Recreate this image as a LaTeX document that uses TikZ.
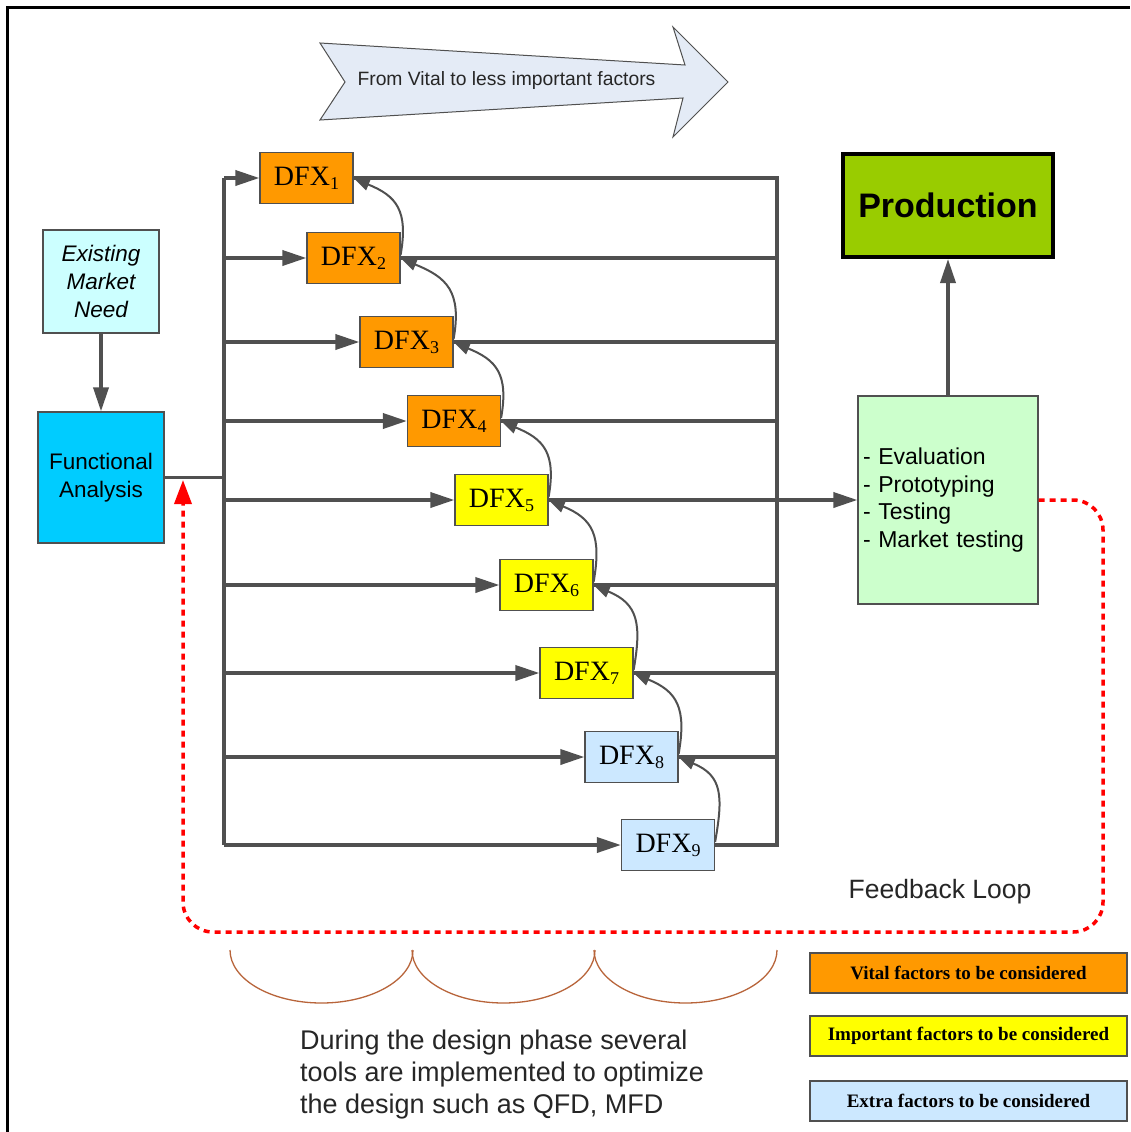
\documentclass[tikz,border=0pt]{standalone}
\usepackage{fontspec}
\setmainfont{Liberation Serif}
\setsansfont{Liberation Sans}
\usetikzlibrary{arrows.meta,calc}

\definecolor{linegray}{HTML}{505050}
\definecolor{vital}{HTML}{FF9900}
\definecolor{important}{HTML}{FFFF00}
\definecolor{extra}{HTML}{CCE8FF}
\definecolor{needfill}{HTML}{CCFFFF}
\definecolor{fafill}{HTML}{00CCFF}
\definecolor{evalfill}{HTML}{CCFFCC}
\definecolor{prodfill}{HTML}{99CC00}
\definecolor{bannerfill}{HTML}{E4EBF6}
\definecolor{bracecol}{HTML}{B8643A}

\newcommand{\dfxlabel}[1]{DFX\raisebox{-4pt}{\fontsize{18}{18}\selectfont #1}}

\tikzset{
  box/.style={draw=linegray, line width=1.2pt, inner sep=0pt, align=center},
  dfxbox/.style={box, minimum width=93pt, minimum height=51pt,
    font=\fontsize{28}{28}\selectfont},
  legendbox/.style={box, minimum width=317pt, minimum height=40pt,
    font=\bfseries\fontsize{19}{19}\selectfont},
  bus/.style={draw=linegray, line width=3.6pt},
  busarrow/.style={bus, -{Triangle[length=24pt,width=15pt]}},
  curvearrow/.style={draw=linegray, line width=2pt,
    -{Triangle[length=15pt,width=12pt]}},
  feedback/.style={draw=red, line width=3.5pt, dash pattern=on 6pt off 5pt,
    rounded corners=30pt, -{Triangle[length=24pt,width=17pt]}},
  brace/.style={draw=bracecol, line width=1.3pt},
  sans/.style={font=\sffamily\fontsize{#1}{#1}\selectfont}
}

\begin{document}
\begin{tikzpicture}[x=1pt,y=1pt]
\useasboundingbox (0,0) rectangle (1130,-1132);
\fill[white] (0,0) rectangle (1130,-1132);

% frame
\draw[line width=3pt] (7,-1132) -- (7,-8) -- (1130,-8);

% banner arrow
\draw[linegray, line width=1pt, fill=bannerfill]
  (320,-43) -- (685,-65) -- (673,-27) -- (728,-82) -- (673,-137)
  -- (683,-98) -- (320,-120) -- (345,-82) -- cycle;
\node[sans=19.3, text=black!85, anchor=west] (banner) at (354,-81)
  {From Vital to less important factors};

% DFX boxes
\node[dfxbox, fill=vital]     (dfx1) at (306.5,-178) {\dfxlabel{1}};
\node[dfxbox, fill=vital]     (dfx2) at (353.5,-258) {\dfxlabel{2}};
\node[dfxbox, fill=vital]     (dfx3) at (406.5,-342) {\dfxlabel{3}};
\node[dfxbox, fill=vital]     (dfx4) at (454,-421)   {\dfxlabel{4}};
\node[dfxbox, fill=important] (dfx5) at (501.5,-500) {\dfxlabel{5}};
\node[dfxbox, fill=important] (dfx6) at (546.5,-585) {\dfxlabel{6}};
\node[dfxbox, fill=important] (dfx7) at (586.5,-673) {\dfxlabel{7}};
\node[dfxbox, fill=extra]     (dfx8) at (631.5,-757) {\dfxlabel{8}};
\node[dfxbox, fill=extra]     (dfx9) at (668,-845)   {\dfxlabel{9}};

% left-hand boxes
\node[box, fill=needfill, minimum width=116pt, minimum height=103pt,
  font=\sffamily\itshape\fontsize{22.5}{28}\selectfont] (need) at (101,-281.5)
  {Existing\\Market\\Need};
\node[box, fill=fafill, minimum width=126pt, minimum height=131pt,
  font=\sffamily\fontsize{22.5}{28}\selectfont] (fa) at (101,-477.5)
  {Functional\\Analysis};

% right-hand boxes
\node[box, fill=evalfill, minimum width=180pt, minimum height=208pt,
  font=\sffamily\fontsize{23}{27.5}\selectfont, align=left, text width=170pt]
  (eval) at (948,-500)
  {- Evaluation\\- Prototyping\\- Testing\\- Market testing};
\node[draw=black, line width=4pt, fill=prodfill, minimum width=210pt,
  minimum height=103pt, inner sep=0pt,
  font=\sffamily\bfseries\fontsize{34}{34}\selectfont] (prod) at (948,-205.5)
  {Production};

% bus lines
\coordinate (lb) at (224,0);
\coordinate (rb) at (777,0);
\draw[bus] (fa.east) -- (lb |- fa.east);
\draw[bus] (dfx1.west -| lb) -- (dfx9.west -| lb);
\foreach \k in {1,...,9}{
  \draw[busarrow] (dfx\k.west -| lb) -- (dfx\k.west);
}
\draw[bus] (dfx1.east) -- (dfx1.east -| rb) -- (dfx9.east -| rb) -- (dfx9.east);
\foreach \k in {2,3,4,6,7,8}{
  \draw[bus] (dfx\k.east) -- (dfx\k.east -| rb);
}
\draw[busarrow] (dfx5.east) -- (eval.west);

% step-to-step curved arrows
\foreach \k [evaluate=\k as \j using int(\k+1)] in {1,...,8}{
  \draw[curvearrow] ($(dfx\j.east)+(0,3)$) to[out=80, in=-22, looseness=1.3]
    ($(dfx\k.east)+(1,-1)$);
}

% vertical connectors
\draw[busarrow] (need.south) -- (fa.north);
\draw[busarrow] (eval.north) -- (prod.south);

% feedback loop
\coordinate (fb1) at (1103,-500);
\coordinate (fb2) at (1103,-932);
\coordinate (fb3) at (183,-932);
\coordinate (fb4) at (183,-480);
\draw[feedback] (eval.east) -- (fb1) -- (fb2) -- (fb3) -- (fb4);
\node[sans=26.5, text=black!85] (fblabel) at (940,-892) {Feedback Loop};

% design-phase braces
\foreach \x in {230,412,594}{
  \draw[brace] (\x,-950) arc[start angle=180, end angle=360,
    x radius=91.5, y radius=53];
}
\node[font=\sffamily\fontsize{27}{32}\selectfont, text=black!85, align=left,
  anchor=north west, inner sep=0pt] (tools) at (300,-1030)
  {During the design phase several\\tools are implemented to optimize\\the design such as QFD, MFD};

% legend
\node[legendbox, fill=vital]     (leg1) at (968.5,-973)  {Vital factors to be considered};
\node[legendbox, fill=important] (leg2) at (968.5,-1036) {Important factors to be considered};
\node[legendbox, fill=extra]     (leg3) at (968.5,-1101) {Extra factors to be considered};
\end{tikzpicture}
\end{document}
